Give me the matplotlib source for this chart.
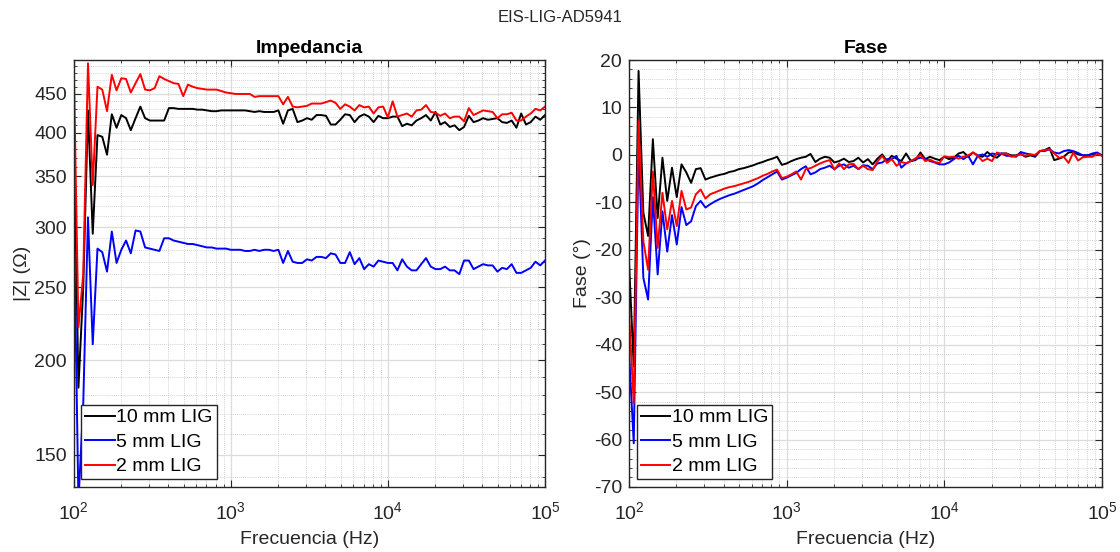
import matplotlib
matplotlib.use("Agg")
import matplotlib.pyplot as plt
from matplotlib.ticker import FixedLocator, NullFormatter, LogLocator, MultipleLocator

plt.rcParams['font.family'] = ['Liberation Sans', 'DejaVu Sans']
plt.rcParams['mathtext.fontset'] = 'custom'
plt.rcParams['mathtext.rm'] = 'Liberation Sans'
plt.rcParams['axes.unicode_minus'] = False

# frequency sweep (Hz)
freq_hz = [100.0, 107.2, 115.0, 123.3, 132.2, 141.7, 152.0, 163.0, 174.8, 187.4,
           200.9, 215.4, 231.0, 247.7, 265.6, 284.8, 305.4, 327.5, 351.1, 376.5,
           403.7, 432.9, 464.2, 497.7, 533.7, 572.2, 613.6, 657.9, 705.5, 756.5,
           811.1, 869.7, 932.6, 1000, 1072, 1150, 1233, 1322, 1417, 1520,
           1630, 1748, 1874, 2009, 2154, 2310, 2477, 2656, 2848, 3054,
           3275, 3511, 3765, 4037, 4329, 4642, 4977, 5337, 5722, 6136,
           6579, 7055, 7565, 8111, 8697, 9326, 10000, 10723, 11498, 12328,
           13219, 14175, 15199, 16298, 17475, 18738, 20092, 21544, 23101, 24771,
           26561, 28480, 30539, 32745, 35112, 37649, 40370, 43288, 46416, 49770,
           53367, 57224, 61359, 65793, 70548, 75646, 81113, 86975, 93260, 100000]

labels = ["10 mm LIG", "5 mm LIG", "2 mm LIG"]

# |Z| (ohm)
z_10mm = [427, 184, 250, 428, 294, 397, 395, 374, 423, 406,
          422, 418, 403, 418, 433, 418, 415, 415, 415, 415,
          431, 431, 430, 430, 430, 430, 429, 429, 428, 427,
          427, 428, 428, 428, 428, 428, 428, 427, 426, 427,
          426, 426, 426, 428, 411, 428, 430, 413, 415, 418,
          416, 422, 422, 421, 410, 410, 416, 423, 422, 413,
          420, 423, 420, 413, 421, 418, 418, 420, 420, 408,
          411, 409, 415, 418, 422, 415, 426, 410, 413, 407,
          409, 403, 407, 421, 413, 415, 418, 416, 417, 418,
          413, 412, 415, 406, 424, 410, 413, 420, 416, 422]
z_5mm = [319, 130, 175, 309, 210, 281, 278, 262, 296, 269,
         280, 288, 277, 297, 296, 282, 281, 280, 279, 290,
         290, 288, 287, 286, 285, 285, 284, 283, 282, 282,
         281, 281, 281, 280, 280, 280, 279, 279, 280, 279,
         280, 280, 279, 280, 269, 279, 270, 269, 269, 272,
         271, 274, 274, 273, 277, 276, 269, 269, 278, 268,
         273, 264, 268, 266, 271, 270, 269, 269, 263, 272,
         266, 263, 263, 268, 273, 266, 264, 264, 266, 263,
         263, 260, 271, 271, 264, 266, 268, 267, 267, 262,
         265, 264, 268, 261, 261, 263, 265, 270, 267, 271]
z_2mm = [497, 221, 260, 494, 341, 460, 456, 427, 477, 455,
         472, 471, 452, 465, 478, 456, 455, 458, 475, 471,
         468, 465, 464, 447, 463, 460, 458, 457, 456, 456,
         456, 454, 452, 451, 450, 450, 450, 450, 446, 447,
         447, 447, 447, 447, 436, 446, 433, 432, 433, 434,
         437, 437, 437, 439, 441, 438, 430, 436, 433, 428,
         435, 432, 433, 424, 432, 433, 419, 440, 420, 422,
         424, 420, 428, 429, 435, 426, 425, 421, 424, 418,
         420, 420, 414, 431, 422, 425, 428, 427, 426, 418,
         423, 423, 425, 415, 415, 420, 424, 430, 428, 433]

# phase (deg)
ph_10mm = [-22.5, -44.6, 17.7, -12.2, -17.1, 3.3, -13.3, -0.6, -9.7, -2.7,
           -8.9, -2.0, -3.7, -5.9, -3.0, -2.8, -5.2, -4.8, -4.5, -4.2,
           -4.0, -3.6, -3.4, -3.0, -2.8, -2.5, -2.2, -1.8, -1.5, -1.1,
           -0.8, -0.4, -2.1, -1.8, -1.3, -0.9, -0.6, -0.4, 0.2, -1.5,
           -0.8, -0.4, -0.6, -1.6, -1.3, -0.8, -1.5, -1.3, -0.6, -1.6,
           -0.9, -2.0, -0.8, 0.1, -1.3, -0.2, -0.8, -1.3, 0.3, -1.3,
           -1.1, 0.5, -0.9, -0.4, -0.8, -1.1, -0.4, -0.9, -0.6, 0.3,
           0.6, -0.4, 0.5, -0.1, -0.4, 0.6, -0.2, -0.6, 0.3, 0.3,
           -0.1, -0.1, 0.2, -0.4, -0.1, -0.4, 0.8, 1.0, 1.5, -1.1,
           -0.8, -0.4, 0.5, 0.6, 0.1, -0.1, -0.1, 0.1, 0.3, -0.1]
ph_5mm = [-41.5, -60.8, 2.0, -25.9, -30.5, -8.9, -25.2, -11.9, -20.4, -12.7,
          -18.9, -11.0, -14.8, -14.0, -10.8, -9.7, -11.1, -10.4, -9.8, -9.3,
          -8.9, -8.5, -8.2, -7.8, -7.4, -7.0, -6.6, -6.0, -5.3, -4.7,
          -4.1, -3.5, -5.2, -4.8, -4.3, -3.8, -3.0, -2.4, -4.1, -3.7,
          -3.0, -2.7, -2.3, -3.0, -2.3, -2.0, -2.7, -2.3, -3.0, -2.2,
          -2.3, -3.0, -1.8, -1.6, -0.9, -0.9, -0.2, -2.7, -1.8, -1.3,
          -0.9, -0.6, -0.8, -1.3, -1.6, -2.0, -2.0, -1.6, -0.9, -0.2,
          -0.9, -0.2, -2.0, -0.2, 0.1, -0.4, 0.3, 0.1, 0.3, -0.2,
          -0.2, -0.4, 0.6, 0.3, 0.1, -0.2, 0.8, 0.8, 1.2, 0.5,
          0.3, 0.8, 1.0, 0.8, 0.4, -0.1, -0.1, 0.3, 0.5, -0.1]
ph_2mm = [-33.3, -52.3, 7.2, -18.2, -24.2, -3.5, -19.6, -8.0, -15.7, -9.7,
          -15.0, -7.6, -11.5, -11.1, -8.3, -7.3, -9.2, -8.3, -7.9, -7.5,
          -7.1, -6.8, -6.6, -6.3, -6.0, -5.7, -5.3, -4.9, -4.4, -4.0,
          -3.5, -3.1, -4.9, -4.6, -4.1, -3.5, -5.2, -3.0, -2.8, -2.3,
          -1.8, -1.4, -1.1, -3.1, -1.8, -3.0, -2.0, -1.9, -3.0, -2.3,
          -3.0, -3.2, -1.4, -0.2, -1.7, -0.9, -2.3, -1.5, -1.8, -1.3,
          -0.7, 0.0, -1.3, -1.0, -1.5, -1.7, -0.3, -0.5, -0.4, -0.8,
          -0.4, -0.1, 0.5, -0.2, -1.3, -0.8, -1.3, 0.5, 0.2, 0.3,
          -0.4, -0.2, 0.1, -0.2, 0.1, 0.0, 0.8, 1.0, 1.2, 0.3,
          -0.6, -0.4, -1.7, 0.5, -1.2, -0.5, -0.4, -0.4, 0.2, -0.2]

z_ticks = [150, 200, 250, 300, 350, 400, 450]
ph_ticks = [-70, -60, -50, -40, -30, -20, -10, 0, 10, 20]
x_ticks = [1e2, 1e3, 1e4, 1e5]
x_ticklabels = [r'$\mathregular{10^{2}}$', r'$\mathregular{10^{3}}$',
                r'$\mathregular{10^{4}}$', r'$\mathregular{10^{5}}$']

colors = ['black', 'blue', 'red']
dark = '#262626'


def style(ax):
    ax.set_xscale('log')
    ax.set_xlim(100, 1e5)
    ax.set_xticks(x_ticks)
    ax.set_xticklabels(x_ticklabels)
    ax.xaxis.set_minor_locator(LogLocator(base=10, subs=[2, 3, 4, 5, 6, 7, 8, 9]))
    ax.xaxis.set_minor_formatter(NullFormatter())
    ax.grid(True, which='major', color='#dcdcdc', lw=0.9, ls='-')
    ax.grid(True, which='minor', color='#c4c4c4', lw=0.6, ls=(0, (1, 1.5)))
    ax.set_axisbelow(True)
    ax.tick_params(which='both', direction='in', top=True, right=True,
                   colors=dark, labelsize=14, pad=5)
    ax.tick_params(axis='x', which='major', pad=10)
    ax.tick_params(which='major', length=5, width=0.8)
    ax.tick_params(which='minor', length=2.5, width=0.6)
    for sp in ax.spines.values():
        sp.set_color(dark)
        sp.set_linewidth(1.0)
    ax.set_xlabel('Frecuencia (Hz)', fontsize=14, color=dark, labelpad=6)


fig = plt.figure(figsize=(11.2, 5.52), dpi=100)
ax1 = fig.add_axes([0.0658, 0.1178, 0.4208, 0.7735])
ax2 = fig.add_axes([0.5616, 0.1178, 0.4223, 0.7735])

for vals, c, lab in zip([z_10mm, z_5mm, z_2mm], colors, labels):
    ax1.plot(freq_hz, vals, color=c, lw=1.4, label=lab)
for vals, c, lab in zip([ph_10mm, ph_5mm, ph_2mm], colors, labels):
    ax2.plot(freq_hz, vals, color=c, lw=1.4, label=lab)

style(ax1)
ax1.set_yscale('log')
ax1.set_ylim(136, 499)
ax1.set_yticks(z_ticks)
ax1.set_yticklabels([str(t) for t in z_ticks])
ax1.yaxis.set_minor_locator(FixedLocator([v for v in range(140, 500, 10) if v % 50 != 0]))
ax1.yaxis.set_minor_formatter(NullFormatter())
ax1.set_ylabel('|Z| (Ω)', fontsize=14, color=dark, labelpad=2)
ax1.set_title('Impedancia', fontsize=14, fontweight='bold', pad=5)

style(ax2)
ax2.set_ylim(-70, 20)
ax2.set_yticks(ph_ticks)
ax2.yaxis.set_minor_locator(MultipleLocator(2))
ax2.set_ylabel('Fase (°)', fontsize=14, color=dark, labelpad=2)
ax2.set_title('Fase', fontsize=14, fontweight='bold', pad=5)

for ax in [ax1, ax2]:
    leg = ax.legend(loc='lower left', fontsize=14, fancybox=False, framealpha=1,
                    edgecolor=dark, borderaxespad=0.4, handlelength=1.5,
                    handletextpad=0.1, labelspacing=0.35, borderpad=0.2)
    leg.get_frame().set_linewidth(1.0)

fig.text(0.5, 1 - 17 / 552, 'EIS-LIG-AD5941', ha='center', va='center',
         fontsize=12, color=dark)

fig.savefig('out.png', dpi=100)
